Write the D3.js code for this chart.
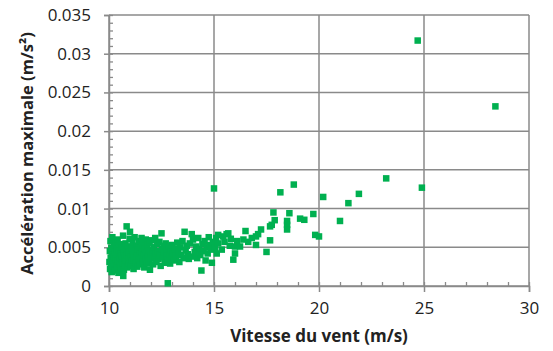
<!DOCTYPE html>
<html>
<head>
<meta charset="utf-8">
<script src="https://cdn.jsdelivr.net/npm/d3@7"></script>
<style>
  body { margin: 0; background: #fff; }
  text { font-family: "Open Sans", sans-serif; fill: #222; }
</style>
</head>
<body>
<div id="chart"></div>
<script>
// Vitesse du vent (m/s) / accélération maximale (m/s²)
const points10_11 = [
  [10.02,0.0031],[10.04,0.0045],[10.05,0.0022],[10.07,0.0058],[10.08,0.0036],[10.1,0.0027],[10.11,0.0049],
  [10.13,0.0018],[10.15,0.0040],[10.16,0.0063],[10.18,0.0033],[10.2,0.0025],[10.22,0.0052],[10.24,0.0038],
  [10.25,0.0029],[10.27,0.0044],[10.29,0.0020],[10.31,0.0056],[10.33,0.0035],[10.35,0.0048],[10.37,0.0026],
  [10.39,0.0041],[10.41,0.0060],[10.43,0.0032],[10.45,0.0017],[10.47,0.0046],[10.49,0.0037],[10.51,0.0028],
  [10.53,0.0054],[10.55,0.0042],[10.57,0.0023],[10.59,0.0034],[10.61,0.0050],[10.63,0.0039],[10.65,0.0030],
  [10.67,0.0065],[10.68,0.0013],[10.69,0.0043],[10.71,0.0021],[10.73,0.0036],[10.75,0.0047],[10.77,0.0027],
  [10.79,0.0055],[10.81,0.0033],[10.84,0.0077],[10.86,0.0040],[10.88,0.0024],[10.9,0.0051],[10.92,0.0035],
  [10.94,0.0044],[10.96,0.0029],[10.98,0.0061]
];
const points11_12 = [
  [11.0,0.0070],[11.02,0.0038],[11.05,0.0026],[11.07,0.0049],[11.1,0.0033],[11.12,0.0057],[11.15,0.0041],
  [11.17,0.0022],[11.2,0.0036],[11.22,0.0063],[11.25,0.0045],[11.27,0.0030],[11.3,0.0052],[11.33,0.0039],
  [11.35,0.0025],[11.38,0.0047],[11.4,0.0034],[11.43,0.0058],[11.45,0.0042],[11.48,0.0028],[11.5,0.0050],
  [11.53,0.0037],[11.55,0.0062],[11.58,0.0044],[11.6,0.0031],[11.63,0.0054],[11.65,0.0040],[11.68,0.0024],
  [11.7,0.0048],[11.73,0.0035],[11.75,0.0060],[11.78,0.0043],[11.8,0.0029],[11.83,0.0053],[11.85,0.0038],
  [11.88,0.0046],[11.9,0.0032],[11.93,0.0056],[11.95,0.0021],[11.97,0.0041]
];
const points12_13 = [
  [12.0,0.0036],[12.03,0.0059],[12.06,0.0044],[12.1,0.0028],[12.13,0.0050],[12.16,0.0038],[12.2,0.0062],
  [12.23,0.0042],[12.26,0.0031],[12.3,0.0054],[12.33,0.0045],[12.36,0.0035],[12.4,0.0057],[12.43,0.0040],
  [12.46,0.0026],[12.5,0.0068],[12.53,0.0048],[12.56,0.0037],[12.6,0.0052],[12.63,0.0043],[12.66,0.0030],
  [12.7,0.0055],[12.73,0.0039],[12.76,0.0047],[12.8,0.00035],[12.82,0.0034],[12.85,0.0051],[12.88,0.0041],
  [12.91,0.0029],[12.94,0.0046],[12.97,0.0038]
];
const points13_15 = [
  [13.0,0.0053],[13.05,0.0042],[13.1,0.0033],[13.15,0.0048],[13.2,0.0039],[13.25,0.0056],[13.3,0.0044],
  [13.35,0.0031],[13.4,0.0050],[13.45,0.0040],[13.5,0.0058],[13.55,0.0036],[13.6,0.0070],[13.65,0.0046],
  [13.7,0.0052],[13.75,0.0041],[13.8,0.0035],[13.85,0.0055],[13.94,0.0067],[13.95,0.0038],
  [14.0,0.0060],[14.08,0.0044],[14.15,0.0051],[14.2,0.0036],[14.25,0.0062],[14.3,0.0048],[14.35,0.0040],
  [14.4,0.0020],[14.45,0.0054],[14.5,0.0045],[14.55,0.0058],[14.6,0.0033],[14.65,0.0050],[14.7,0.0042],
  [14.75,0.0063],[14.8,0.0053],[14.85,0.0047],[14.9,0.0030],[14.95,0.0057]
];
const points15_18 = [
  [15.0,0.0126],[15.05,0.0049],[15.1,0.0062],[15.13,0.0042],[15.2,0.0055],[15.2,0.0066],[15.37,0.0047],
  [15.44,0.0064],[15.5,0.0057],[15.6,0.0067],[15.68,0.0068],[15.75,0.0052],[15.8,0.0061],[15.92,0.0034],
  [16.0,0.0051],[16.0,0.0042],[16.1,0.0058],[16.24,0.0051],[16.4,0.0060],[16.5,0.0071],[16.63,0.0057],
  [16.8,0.0062],[17.0,0.0064],[17.0,0.0053],[17.1,0.0067],[17.24,0.0073],[17.5,0.0044],[17.67,0.0059],
  [17.67,0.0077],[17.75,0.0079]
];
const points18plus = [
  [17.83,0.0095],[17.89,0.0085],[18.16,0.0121],[18.48,0.0084],[18.48,0.0079],[18.48,0.0073],[18.59,0.0094],
  [18.8,0.0131],[19.1,0.0087],[19.3,0.00855],[19.73,0.0093],[19.82,0.0066],[20.0,0.0064],[20.2,0.0115],
  [21.0,0.0084],[21.4,0.0107],[21.9,0.0119],[23.2,0.0139],[24.7,0.0317],[24.9,0.0127],[28.4,0.0232]
];
const xTicks = [10, 15, 20, 25, 30];
const yTicks = [0, 0.005, 0.01, 0.015, 0.02, 0.025, 0.03, 0.035];

const data = [].concat(points10_11, points11_12, points12_13, points13_15, points15_18, points18plus);

const W = 553, H = 351;
const margin = { top: 15, right: 24, bottom: 65, left: 109 };
const width = W - margin.left - margin.right,
  height = H - margin.top - margin.bottom;

const svg = d3.select('#chart')
  .append('svg')
  .attr('width', W)
  .attr('height', H);

const g = svg.append('g')
  .attr('transform', `translate(${margin.left},${margin.top})`);

const x = d3.scaleLinear().domain([10, 30]).range([0, width]);
const y = d3.scaleLinear().domain([0, 0.035]).range([height, 0]);

const gridColor = '#8a8a8a';

// gridlines
g.selectAll('.vgrid')
  .data(xTicks)
  .enter()
  .append('line')
  .attr('x1', d => x(d)).attr('x2', d => x(d))
  .attr('y1', 0).attr('y2', height)
  .attr('stroke', gridColor).attr('stroke-width', 1.5);

g.selectAll('.hgrid')
  .data(yTicks)
  .enter()
  .append('line')
  .attr('x1', 0).attr('x2', width)
  .attr('y1', d => y(d)).attr('y2', d => y(d))
  .attr('stroke', gridColor).attr('stroke-width', 1.5);

// minor ticks (inside)
g.append('g')
  .attr('transform', `translate(0,${height})`)
  .call(d3.axisTop(x).ticks(20).tickSize(4).tickFormat(''))
  .call(a => a.select('.domain').remove())
  .call(a => a.selectAll('line').attr('stroke', gridColor).attr('stroke-width', 1.3));

g.append('g')
  .call(d3.axisRight(y).tickValues(d3.range(0, 0.0351, 0.001)).tickSize(4).tickFormat(''))
  .call(a => a.select('.domain').remove())
  .call(a => a.selectAll('line').attr('stroke', gridColor).attr('stroke-width', 1.3));

// major axes
const xAxis = g.append('g')
  .attr('transform', `translate(0,${height})`)
  .call(d3.axisBottom(x).tickValues(xTicks).tickSize(6).tickPadding(10).tickFormat(d3.format('d')));

const yAxis = g.append('g')
  .call(d3.axisLeft(y).tickValues(yTicks).tickSize(5).tickPadding(13).tickFormat(d => d === 0 ? '0' : String(+d.toFixed(3))));

[xAxis, yAxis].forEach(a => {
  a.select('.domain').attr('stroke', gridColor).attr('stroke-width', 1.5);
  a.selectAll('line').attr('stroke', gridColor).attr('stroke-width', 1.5);
  a.selectAll('text').style('font-size', '17px').style('font-family', '"Open Sans", sans-serif').attr('fill', '#222');
});

// points
const s = 6.5;
g.selectAll('.pt')
  .data(data)
  .enter()
  .append('rect')
  .attr('x', d => x(d[0]) - s / 2)
  .attr('y', d => y(d[1]) - s / 2)
  .attr('width', s)
  .attr('height', s)
  .attr('fill', '#00B050');

// titles
svg.append('text')
  .attr('x', margin.left + x(20))
  .attr('y', 342)
  .attr('text-anchor', 'middle')
  .style('font-size', '17px')
  .style('font-weight', 'bold')
  .text('Vitesse du vent (m/s)');

svg.append('text')
  .attr('transform', `translate(33,${margin.top + height / 2 + 3}) rotate(-90)`)
  .attr('text-anchor', 'middle')
  .style('font-size', '16.5px')
  .style('font-weight', 'bold')
  .text('Accélération maximale (m/s²)');
</script>
</body>
</html>
